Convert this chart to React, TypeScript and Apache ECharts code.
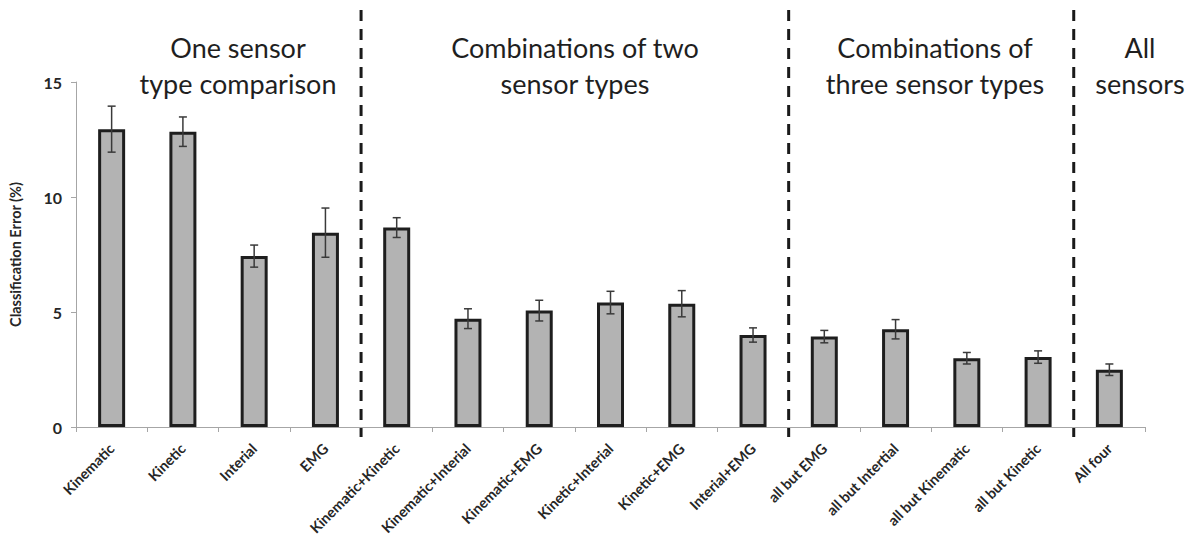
import React, { useEffect, useRef } from "react";
import * as echarts from "echarts";

const categories = [
  "Kinematic", "Kinetic", "Interial", "EMG",
  "Kinematic+Kinetic", "Kinematic+Interial", "Kinematic+EMG", "Kinetic+Interial", "Kinetic+EMG", "Interial+EMG",
  "all but EMG", "all but Intertial", "all but Kinematic", "all but Kinetic",
  "All four",
];
const values = [12.95, 12.84, 7.43, 8.45, 8.67, 4.71, 5.06, 5.41, 5.36, 4.0, 3.93, 4.25, 2.99, 3.04, 2.49];
const errors = [1.0, 0.64, 0.48, 1.07, 0.43, 0.43, 0.45, 0.49, 0.57, 0.31, 0.27, 0.42, 0.25, 0.27, 0.25];
const separatorsAfter = [3, 9, 13];
const groupTitles = [
  "One sensor\ntype comparison",
  "Combinations of two\nsensor types",
  "Combinations of\nthree sensor types",
  "All\nsensors",
];
const yTicks = [0, 5, 10, 15];

const titleX = [238, 575, 935, 1140];
const FONT = "Lato";

export default function App() {
  const ref = useRef<HTMLDivElement>(null);
  useEffect(() => {
    if (!ref.current) return;
    const chart = echarts.init(ref.current, null, { renderer: "svg" });
    chart.setOption({
      animation: false,
      backgroundColor: "#ffffff",
      grid: { left: 73, right: 50, top: 82, bottom: 119 },
      xAxis: {
        type: "category",
        data: categories,
        axisLine: { lineStyle: { color: "#a6a6a6", width: 1 } },
        axisTick: { show: true, alignWithLabel: false, length: 5, lineStyle: { color: "#a6a6a6" } },
        axisLabel: {
          interval: 0,
          rotate: 45,
          fontFamily: FONT,
          fontWeight: "bold",
          fontSize: 14.5,
          color: "#262626",
          margin: 19,
        },
      },
      yAxis: {
        type: "value",
        min: yTicks[0],
        max: yTicks[yTicks.length - 1],
        interval: 5,
        name: "Classification Error (%)",
        nameLocation: "middle",
        nameRotate: 90,
        nameGap: 53,
        nameTextStyle: { fontFamily: FONT, fontWeight: "bold", fontSize: 14.5, color: "#262626" },
        splitLine: { show: false },
        axisLine: { show: true, lineStyle: { color: "#a6a6a6", width: 1 } },
        axisTick: { show: true, length: 5, lineStyle: { color: "#a6a6a6" } },
        axisLabel: { fontFamily: FONT, fontWeight: "bold", fontSize: 16, color: "#262626", margin: 14 },
      },
      graphic: groupTitles.map((t, i) => ({
        type: "text",
        x: titleX[i],
        y: 65,
        style: {
          text: t,
          fontFamily: FONT,
          fontSize: 27,
          lineHeight: 36,
          fill: "#1f1f1f",
          align: "center",
          verticalAlign: "middle",
        },
        z: 10,
      })),
      series: [
        {
          type: "bar",
          data: values,
          barWidth: 27,
          itemStyle: { color: "#b3b3b3", borderColor: "#1e1e1e", borderWidth: 3 },
          z: 2,
        },
        {
          type: "custom",
          data: categories.map((c, i) => [i, values[i] - errors[i], values[i] + errors[i]]),
          encode: { x: 0, y: [1, 2] },
          z: 3,
          renderItem: (params: any, api: any) => {
            const lo = api.coord([api.value(0), api.value(1)]);
            const hi = api.coord([api.value(0), api.value(2)]);
            const hw = 4;
            const style = { stroke: "#3a3a3a", lineWidth: 1.5 };
            return {
              type: "group",
              children: [
                { type: "line", shape: { x1: lo[0], y1: lo[1], x2: hi[0], y2: hi[1] }, style },
                { type: "line", shape: { x1: hi[0] - hw, y1: hi[1], x2: hi[0] + hw, y2: hi[1] }, style },
                { type: "line", shape: { x1: lo[0] - hw, y1: lo[1], x2: lo[0] + hw, y2: lo[1] }, style },
              ],
            };
          },
        },
        {
          type: "custom",
          data: separatorsAfter.map((i) => [i, 0]),
          encode: { x: 0, y: 1 },
          z: 4,
          clip: false,
          renderItem: (params: any, api: any) => {
            const a = api.coord([api.value(0), 0]);
            const b = api.coord([api.value(0) + 1, 0]);
            const x = (a[0] + b[0]) / 2;
            return {
              type: "line",
              shape: { x1: x, y1: 10, x2: x, y2: a[1] + 10 },
              style: { stroke: "#1a1a1a", lineWidth: 3, lineDash: [11, 8] },
            };
          },
        },
      ],
    });
    return () => chart.dispose();
  }, []);
  return (
    <div
      ref={ref}
      style={{ position: "fixed", left: 0, top: 0, width: 1195, height: 546, background: "#fff" }}
    />
  );
}
